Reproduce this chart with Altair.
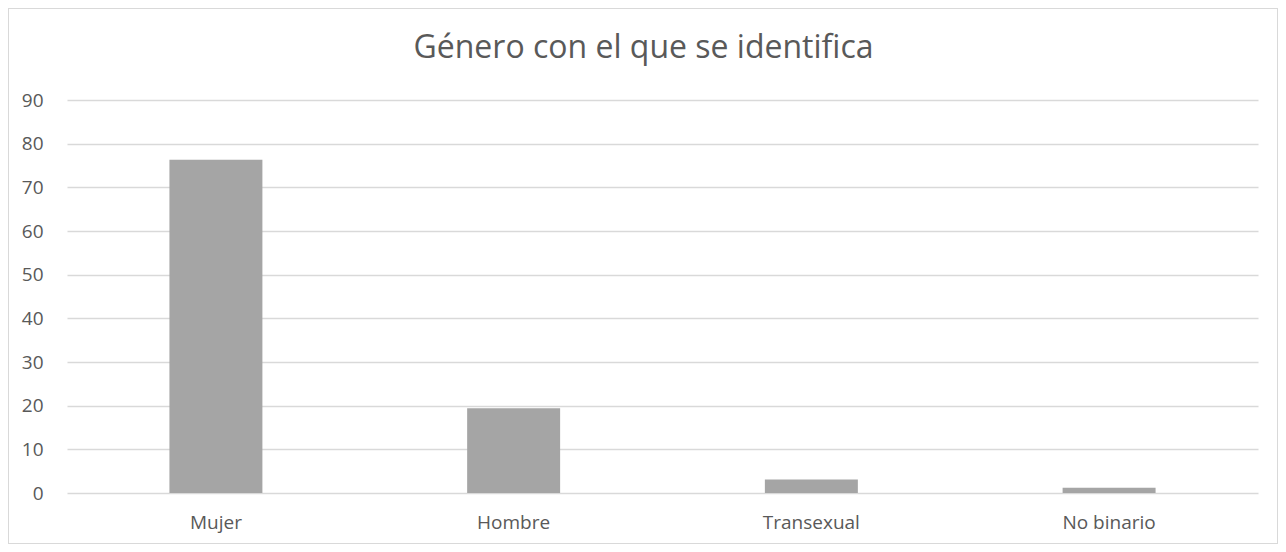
import altair as alt
import pandas as pd

categorias = ["Mujer", "Hombre", "Transexual", "No binario"]
valores = [76.3, 19.4, 3.1, 1.2]
ticks_y = [0, 10, 20, 30, 40, 50, 60, 70, 80, 90]

df = pd.DataFrame({"cat": categorias, "val": valores})

FONT = "Open Sans"
TXT = "#595959"

bars = alt.Chart(df).mark_bar(color="#a5a5a5").encode(
    x=alt.X("cat:N", sort=categorias, title=None,
            scale=alt.Scale(paddingInner=0.6877, paddingOuter=0.344),
            axis=alt.Axis(labelAngle=0, domain=False, ticks=False, grid=False,
                          labelFont=FONT, labelFontSize=19, labelColor=TXT,
                          labelPadding=20)),
    y=alt.Y("val:Q", title=None,
            scale=alt.Scale(domain=[0, 90], nice=False),
            axis=alt.Axis(values=ticks_y, domain=False, ticks=False,
                          gridColor="#d9d9d9", gridWidth=1.3,
                          labelFont=FONT, labelFontSize=19, labelColor=TXT,
                          labelPadding=24)),
)

frame = alt.Chart(df).mark_rect(fill=None, stroke="#d9d9d9", strokeWidth=1).encode(
    x=alt.value(-58.5), x2=alt.value(1210.5),
    y=alt.value(-91.5), y2=alt.value(443.5),
)

chart = alt.layer(frame, bars).properties(
    width=1191, height=393,
    autosize=alt.AutoSizeParams(type="none"),
    padding={"left": 59, "top": 92, "right": 20, "bottom": 51},
    title=alt.TitleParams("Género con el que se identifica", font=FONT,
                          fontSize=32, fontWeight="normal", color=TXT,
                          anchor="middle", dx=-19, offset=-82, baseline="alphabetic"),
).configure_view(stroke=None)

chart.save("out.html", embed_options={"renderer": "svg", "actions": False})
